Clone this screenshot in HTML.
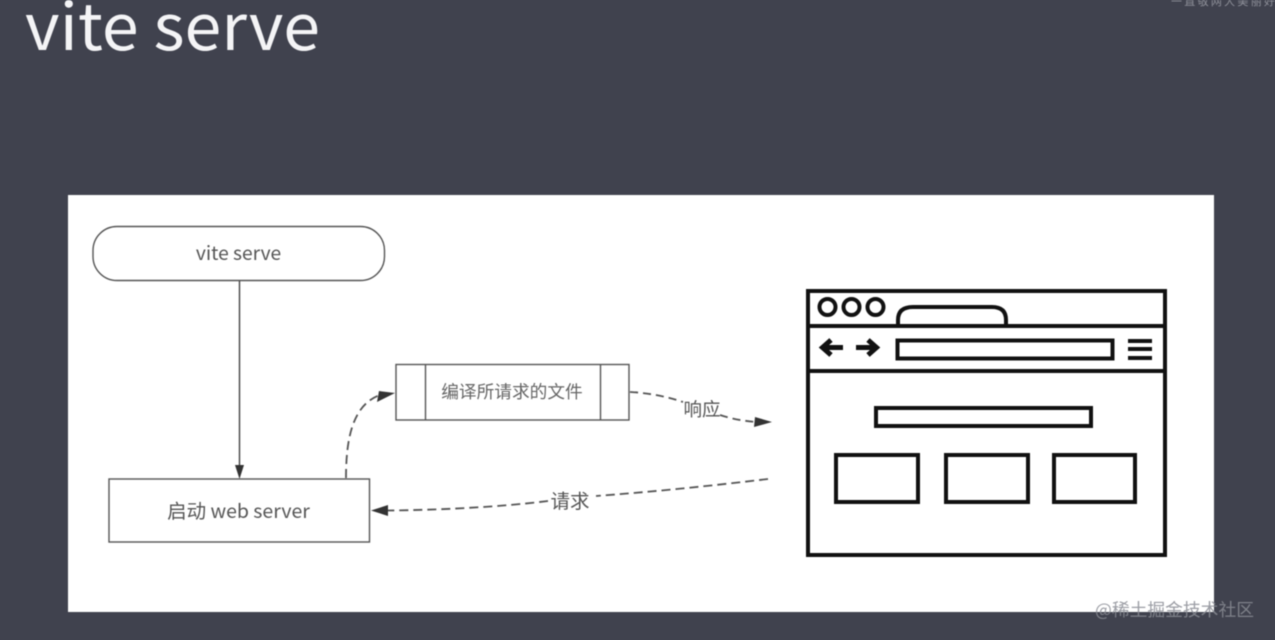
<!DOCTYPE html>
<html>
<head>
<meta charset="utf-8">
<style>
html,body{margin:0;padding:0;width:1275px;height:640px;overflow:hidden;background:#40424e;}
svg{display:block;position:absolute;left:0;top:0;filter:blur(0.4px);}
text{font-family:"Noto Sans CJK SC","Liberation Sans",sans-serif;}
</style>
</head>
<body>
<svg width="1275" height="640" viewBox="0 0 1275 640" xmlns="http://www.w3.org/2000/svg">
<rect width="1275" height="640" fill="#40424e"/>
<text x="25" y="50" font-size="64" fill="#f4f4f6" font-weight="400" textLength="295" lengthAdjust="spacingAndGlyphs">vite serve</text>
<text x="1171" y="5" font-size="11" fill="#8f919a" textLength="104" lengthAdjust="spacing">一 直 敬 网 大 美 丽 好</text>
<rect x="68" y="195" width="1146" height="417" fill="#ffffff"/>

<rect x="93" y="226.500" width="291.500" height="54" rx="24" ry="24" fill="#fff" stroke="#555" stroke-width="1.400"/>
<text x="238.500" y="260" font-size="19.200" fill="#555" text-anchor="middle" font-weight="400">vite serve</text>

<line x1="239.500" y1="281" x2="239.500" y2="466" stroke="#444" stroke-width="1.400"/>
<path d="M239.500 479 L235 465 L244 465 Z" fill="#333"/>

<rect x="109" y="479" width="260.500" height="63" fill="#fff" stroke="#555" stroke-width="1.400"/>
<text x="238.500" y="518" font-size="19.500" fill="#555" text-anchor="middle" font-weight="400">启动 web server</text>

<rect x="396" y="364.500" width="233" height="55.500" fill="#fff" stroke="#555" stroke-width="1.400"/>
<line x1="425.500" y1="364.500" x2="425.500" y2="420" stroke="#555" stroke-width="1.400"/>
<line x1="600.500" y1="364.500" x2="600.500" y2="420" stroke="#555" stroke-width="1.400"/>
<text x="512" y="398" font-size="17.700" fill="#666" text-anchor="middle" font-weight="400">编译所请求的文件</text>

<path d="M346 478 C346 440 352 405 380 395" fill="none" stroke="#555" stroke-width="1.800" stroke-dasharray="9 5"/>
<path d="M395 393 L377 402 L379 391 Z" fill="#333"/>

<path d="M630 392 C650 393 668 397 683 402 M720 415 C732 419 744 421 756 422" fill="none" stroke="#555" stroke-width="1.800" stroke-dasharray="8 5"/>
<path d="M772 422 L754 427 L755 417 Z" fill="#333"/>
<text x="702" y="416" font-size="18.500" fill="#555" text-anchor="middle" font-weight="400">响应</text>

<path d="M768 479 C710 486 650 492 596 496 M548 501 C500 507 440 510 388 510.500" fill="none" stroke="#555" stroke-width="1.800" stroke-dasharray="9 5"/>
<path d="M371 510.500 L388 505 L388 516 Z" fill="#333"/>
<text x="570" y="508" font-size="19.500" fill="#555" text-anchor="middle" font-weight="400">请求</text>

<g fill="none" stroke="#111" stroke-width="4">
<rect x="808" y="291" width="357" height="264"/>
<line x1="808" y1="326" x2="1165" y2="326"/>
<line x1="808" y1="371" x2="1165" y2="371"/>
<circle cx="827.500" cy="307" r="8"/>
<circle cx="851.500" cy="307" r="8"/>
<circle cx="875.500" cy="307" r="8"/>
<path d="M898 326 V320 Q898 307 913 307 H992 Q1006 307 1006 320 V326"/>
<rect x="897.500" y="340.500" width="215" height="18"/>
<path d="M1128 341 H1152 M1128 349 H1152 M1128 358 H1152"/>
<path d="M843 347.500 H824 M831 340 L822.500 347.500 L831 355" stroke-width="5"/>
<path d="M856 347.500 H875 M868 340 L876.500 347.500 L868 355" stroke-width="5"/>
<rect x="876" y="408" width="215" height="18"/>
<rect x="836" y="455" width="82" height="47"/>
<rect x="946" y="455" width="82" height="47"/>
<rect x="1054" y="455" width="81" height="47"/>
</g>

<text x="1095" y="616" font-size="17.500" fill="#8a8c94" fill-opacity="0.85" textLength="159" lengthAdjust="spacingAndGlyphs">@稀土掘金技术社区</text>
</svg>
</body>
</html>
